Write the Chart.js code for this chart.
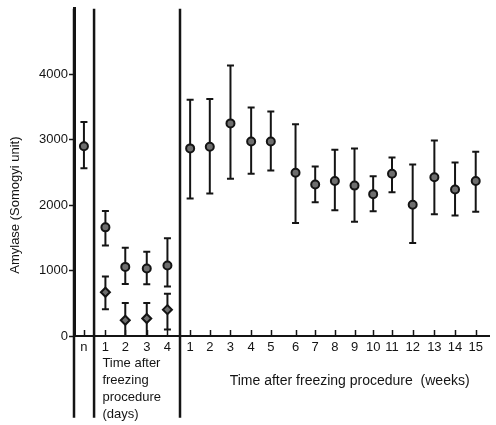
<!DOCTYPE html>
<html lang="en">
  <head>
    <meta charset="UTF-8" />
    <title>Amylase after freezing procedure</title>
    <style>
      html, body { margin: 0; padding: 0; background: #fff; }
      #chart-wrap { width: 496px; height: 425px; }
    </style>
  </head>
  <body>
    <div id="chart-wrap">
      <canvas id="amylase-chart" width="496" height="425"></canvas>
    </div>

    <script src="https://cdn.jsdelivr.net/npm/chart.js"></script>
    <script>
      // slot positions along the x axis (n, days 1-4, weeks 1-15)
      const normalPos = [0.49];
      const dayPos = [1.55, 2.53, 3.59, 4.61];
      const weekPos = [5.73, 6.7, 7.72, 8.74, 9.71, 10.93, 11.9, 12.87, 13.84, 14.76, 15.69, 16.71, 17.78, 18.8, 19.82];
      const dividerPos = [0, 0.99, 5.23];

      const normalLabels = ["n"];
      const dayLabels = ["1", "2", "3", "4"];
      const weekLabels = ["1", "2", "3", "4", "5", "6", "7", "8", "9", "10", "11", "12", "13", "14", "15"];
      const yTickValues = [0, 1000, 2000, 3000, 4000];

      // normal value
      const normalMean = [2900];
      const normalHigh = [3270];
      const normalLow = [2565];

      // days, upper group (circles)
      const dayMeanA = [1660, 1056, 1031, 1077];
      const dayHighA = [1912, 1348, 1288, 1494];
      const dayLowA = [1384, 795, 790, 755];

      // days, lower group (diamonds)
      const dayMeanB = [669, 241, 267, 403];
      const dayHighB = [910, 503, 503, 644];
      const dayLowB = [407, 0, 0, 100];

      // weeks
      const weekMean = [2867, 2892, 3249, 2973, 2973, 2495, 2314, 2369, 2298, 2168, 2479, 2007, 2425, 2238, 2369];
      const weekHigh = [3611, 3622, 4135, 3491, 3430, 3234, 2591, 2847, 2867, 2440, 2727, 2621, 2988, 2651, 2817];
      const weekLow = [2102, 2178, 2404, 2479, 2530, 1725, 2042, 1921, 1746, 1906, 2198, 1423, 1861, 1841, 1897];

      const allPos = normalPos.concat(dayPos, weekPos);
      const allLabels = normalLabels.concat(dayLabels, weekLabels);

      const FONT = "'Liberation Sans', Arial, sans-serif";
      const INK = "#141414";

      function toPoints(pos, vals) {
        return pos.map((x, i) => ({ x: x, y: vals[i] }));
      }

      // vertical bar segments, separated by gaps
      function errorSegments(pos, lows, highs) {
        const pts = [];
        pos.forEach((x, i) => {
          pts.push({ x: x, y: lows[i] });
          pts.push({ x: x, y: highs[i] });
          pts.push({ x: x, y: null });
        });
        return pts;
      }

      function capPoints(pos, lows, highs) {
        const pts = [];
        pos.forEach((x, i) => {
          pts.push({ x: x, y: lows[i] });
          pts.push({ x: x, y: highs[i] });
        });
        return pts;
      }

      const errPos = normalPos.concat(dayPos, dayPos, weekPos);
      const errLow = normalLow.concat(dayLowA, dayLowB, weekLow);
      const errHigh = normalHigh.concat(dayHighA, dayHighB, weekHigh);

      const dividerData = [];
      dividerPos.forEach((x) => {
        dividerData.push({ x: x, y: -1250 });
        dividerData.push({ x: x, y: 5000 });
        dividerData.push({ x: x, y: null });
      });

      // text labels + upward x ticks
      const annotations = {
        id: "annotations",
        afterDraw(chart) {
          const ctx = chart.ctx;
          const xs = chart.scales.x;
          const ys = chart.scales.y;
          const y0 = ys.getPixelForValue(0);

          ctx.save();
          ctx.strokeStyle = INK;
          ctx.lineWidth = 1.5;
          allPos.forEach((v) => {
            const px = Math.round(xs.getPixelForValue(v)) + 0.5;
            ctx.beginPath();
            ctx.moveTo(px, y0);
            ctx.lineTo(px, y0 - 6);
            ctx.stroke();
          });

          ctx.fillStyle = INK;
          ctx.font = "13px " + FONT;

          ctx.save();
          ctx.translate(15, ys.getPixelForValue(2000));
          ctx.rotate(-Math.PI / 2);
          ctx.textAlign = "center";
          ctx.textBaseline = "middle";
          ctx.fillText("Amylase (Somogyi unit)", 0, 0);
          ctx.restore();

          ctx.textAlign = "left";
          ctx.textBaseline = "middle";
          const dx = xs.getPixelForValue(dayPos[0]) - 3;
          ["Time after", "freezing", "procedure", "(days)"].forEach((t, i) => {
            ctx.fillText(t, dx, y0 + 27 + i * 17);
          });

          ctx.font = "14px " + FONT;
          ctx.textAlign = "center";
          ctx.fillText("Time after freezing procedure  (weeks)", xs.getPixelForValue(13.6), y0 + 45);
          ctx.restore();
        },
      };

      const markerStyle = {
        backgroundColor: "#6e6e6e",
        borderColor: INK,
        borderWidth: 2,
        showLine: false,
      };

      new Chart(document.getElementById("amylase-chart"), {
        type: "scatter",
        data: {
          datasets: [
            Object.assign({ label: "normal", data: toPoints(normalPos, normalMean), pointStyle: "circle", pointRadius: 4, order: 0 }, markerStyle),
            Object.assign({ label: "days A", data: toPoints(dayPos, dayMeanA), pointStyle: "circle", pointRadius: 4, order: 0 }, markerStyle),
            Object.assign({ label: "days B", data: toPoints(dayPos, dayMeanB), pointStyle: "rectRot", pointRadius: 4.5, order: 0 }, markerStyle),
            Object.assign({ label: "weeks", data: toPoints(weekPos, weekMean), pointStyle: "circle", pointRadius: 4, order: 0 }, markerStyle),
            {
              label: "caps",
              data: capPoints(errPos, errLow, errHigh),
              pointStyle: "line",
              pointRadius: 3.5,
              borderColor: INK,
              borderWidth: 2,
              showLine: false,
              order: 1,
            },
            {
              label: "error bars",
              type: "line",
              data: errorSegments(errPos, errLow, errHigh),
              borderColor: INK,
              borderWidth: 2,
              pointRadius: 0,
              spanGaps: false,
              order: 2,
            },
            {
              label: "dividers",
              type: "line",
              data: dividerData,
              borderColor: INK,
              borderWidth: 2.5,
              pointRadius: 0,
              spanGaps: false,
              clip: false,
              order: 3,
            },
          ],
        },
        options: {
          responsive: false,
          animation: false,
          layout: { padding: { top: 5, right: 0, left: 0, bottom: 0 } },
          plugins: {
            legend: { display: false },
            tooltip: { enabled: false },
          },
          scales: {
            x: {
              type: "linear",
              min: 0,
              max: 20.5,
              afterBuildTicks: (scale) => {
                scale.ticks = allPos.map((v) => ({ value: v }));
              },
              afterFit: (scale) => {
                scale.height = 89;
              },
              ticks: {
                autoSkip: false,
                maxRotation: 0,
                padding: 4,
                color: INK,
                font: { family: FONT, size: 13 },
                callback: (v, i) => allLabels[i],
              },
              grid: { drawOnChartArea: false, drawTicks: false },
              border: { color: INK, width: 2 },
            },
            y: {
              min: 0,
              max: 5000,
              afterBuildTicks: (scale) => {
                scale.ticks = yTickValues.map((v) => ({ value: v }));
              },
              afterFit: (scale) => {
                scale.width = 74;
              },
              ticks: {
                padding: 1,
                color: INK,
                font: { family: FONT, size: 13 },
                callback: (v) => String(v),
              },
              grid: { drawOnChartArea: false, tickLength: 5, color: INK, tickWidth: 1.5 },
              border: { color: INK, width: 3 },
            },
          },
        },
        plugins: [annotations],
      });
    </script>
  </body>
</html>
